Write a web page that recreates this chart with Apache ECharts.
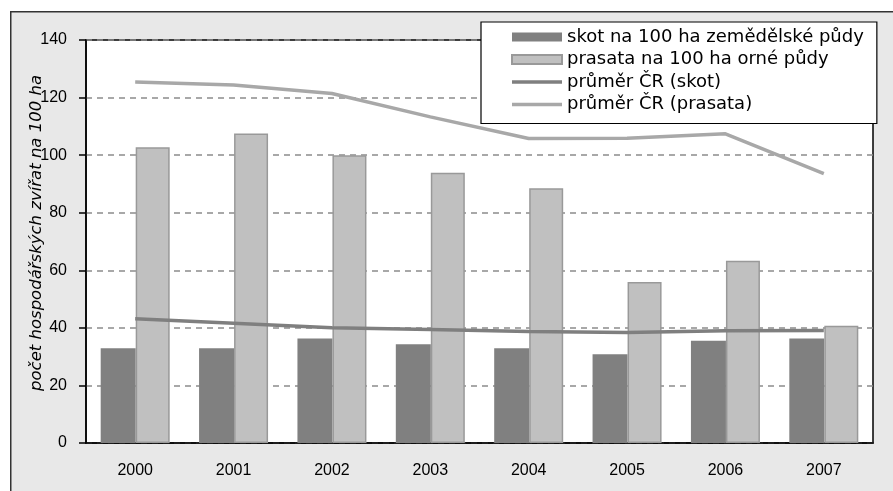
<!DOCTYPE html>
<html>
<head>
<meta charset="utf-8">
<script src="https://cdn.jsdelivr.net/npm/echarts@6/dist/echarts.min.js"></script>
<style>
html,body{margin:0;padding:0;background:#fff;}
#c{width:893px;height:491px;}
</style>
</head>
<body>
<div id="c"></div>
<script>
const years = ['2000','2001','2002','2003','2004','2005','2006','2007'];
const skotBars = [32.9, 32.9, 36.3, 34.3, 32.9, 30.8, 35.5, 36.3];
const prasataBars = [102.7, 107.5, 100.0, 93.9, 88.5, 55.9, 63.3, 40.7];
const skotAvg = [43.2, 41.6, 40.0, 39.4, 38.7, 38.4, 39.0, 39.1];
const prasataAvg = [125.4, 124.4, 121.4, 113.3, 105.8, 105.9, 107.4, 93.6];
const yTicks = {min: 0, max: 140, step: 20};
const yTitle = 'počet hospodářských zvířat na 100 ha';
const names = ['skot na 100 ha zemědělské půdy', 'prasata na 100 ha orné půdy', 'průměr ČR (skot)', 'průměr ČR (prasata)'];

const lineIcon = 'path://M0,0H50V3.5H0Z';
const chart = echarts.init(document.getElementById('c'), null, {renderer: 'canvas'});
chart.setOption({
  animation: false,
  backgroundColor: '#fff',
  graphic: [{
    type: 'rect', left: 10, top: 11, z: -10,
    shape: {width: 900, height: 500},
    style: {fill: '#e8e8e8', stroke: '#333', lineWidth: 1.5}
  }, {
    type: 'text', x: 37, y: 233, rotation: Math.PI / 2, z: 10,
    style: {
      text: yTitle, fontFamily: 'DejaVu Sans', fontStyle: 'italic', fontSize: 16.5,
      fill: '#000', align: 'center', verticalAlign: 'middle'
    }
  }],
  grid: {
    left: 86, right: 20, top: 40, bottom: 48,
    show: true, backgroundColor: '#fff', borderColor: '#000', borderWidth: 1.5
  },
  legend: {
    orient: 'vertical',
    left: 481, top: 22,
    backgroundColor: '#fff', borderColor: '#000', borderWidth: 1.2, borderRadius: 0,
    padding: [6, 13, 10, 30],
    itemWidth: 50, itemHeight: 9, itemGap: 4.5,
    symbolKeepAspect: true,
    textStyle: {fontFamily: 'DejaVu Sans', fontSize: 18, color: '#000', lineHeight: 18},
    data: [
      {name: names[0], icon: 'rect'},
      {name: names[1], icon: 'rect'},
      {name: names[2], icon: lineIcon},
      {name: names[3], icon: lineIcon}
    ]
  },
  xAxis: {
    type: 'category', data: years,
    axisLine: {lineStyle: {color: '#000', width: 1.5}},
    axisTick: {show: false},
    axisLabel: {fontFamily: 'Liberation Sans', fontSize: 16, color: '#000', margin: 20}
  },
  yAxis: {
    type: 'value', min: yTicks.min, max: yTicks.max, interval: yTicks.step,
    axisLine: {show: true, lineStyle: {color: '#000', width: 1.5}},
    axisTick: {show: true, length: 7, lineStyle: {color: '#000', width: 1.5}},
    axisLabel: {fontFamily: 'Liberation Sans', fontSize: 16, color: '#000', margin: 19},
    splitLine: {show: true, lineStyle: {color: '#8c8c8c', type: [6, 5], width: 1.5}}
  },
  series: [
    {
      name: names[0], type: 'bar', data: skotBars,
      barWidth: 35, barGap: '0%',
      itemStyle: {color: '#808080'}
    },
    {
      name: names[1], type: 'bar', data: prasataBars,
      barWidth: 34,
      itemStyle: {color: '#c0c0c0', borderColor: '#999', borderWidth: 1.5}
    },
    {
      name: names[2], type: 'line', data: skotAvg, symbol: 'none', z: 5,
      lineStyle: {color: '#7f7f7f', width: 3.5}, itemStyle: {color: '#7f7f7f'}
    },
    {
      name: names[3], type: 'line', data: prasataAvg, symbol: 'none', z: 5,
      lineStyle: {color: '#a8a8a8', width: 3.5}, itemStyle: {color: '#a8a8a8'}
    }
  ]
});
</script>
</body>
</html>
